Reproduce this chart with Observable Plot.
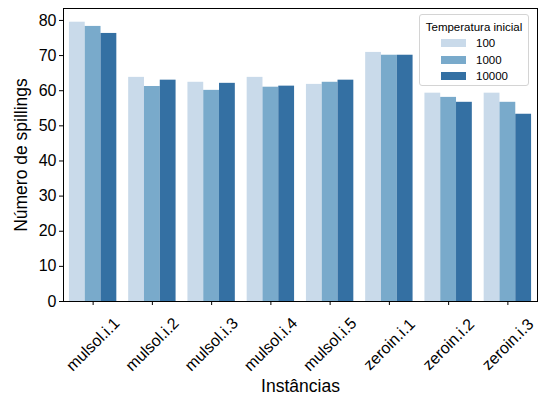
<!DOCTYPE html>
<html>
<head>
<meta charset="utf-8">
<script src="https://cdn.jsdelivr.net/npm/d3@7"></script>
<script src="https://cdn.jsdelivr.net/npm/@observablehq/plot@0.6"></script>
<style>
  html, body { margin: 0; padding: 0; background: #fff; }
  #wrap { position: relative; width: 541px; height: 396px; font-family: "Liberation Sans", Arial, sans-serif; }
  #legend { position: absolute; left: 419px; top: 14px; width: 110px; height: 72px; border: 1px solid #d4d4d4; border-radius: 3px; background: rgba(255,255,255,0.85); box-sizing: border-box; font-size: 11.5px; color: #000; }
  #legend .title { position: absolute; left: 0; width: 100%; top: 5px; text-align: center; line-height: 14px; }
  #legend .item { position: absolute; left: 21px; height: 14px; line-height: 14px; }
  #legend .sw { position: absolute; left: 0; top: 3px; width: 25px; height: 8px; }
  #legend .lb { position: absolute; left: 35px; top: 0; white-space: nowrap; }
</style>
</head>
<body>
<div id="wrap"></div>
<script>
const categories = ["mulsol.i.1","mulsol.i.2","mulsol.i.3","mulsol.i.4","mulsol.i.5","zeroin.i.1","zeroin.i.2","zeroin.i.3"];
const temps = ["100","1000","10000"];
const v100   = [79.5, 63.8, 62.4, 63.8, 61.8, 70.9, 59.3, 59.3];
const v1000  = [78.3, 61.2, 60.1, 61.0, 62.4, 70.1, 58.1, 56.7];
const v10000 = [76.3, 63.0, 62.1, 61.3, 63.0, 70.1, 56.7, 53.3];
const colors = ["#c9daea", "#79aacb", "#3470a3"];
const yTicks = [0, 10, 20, 30, 40, 50, 60, 70, 80];
const legendTitle = "Temperatura inicial";
const xLabel = "Instâncias";
const yLabel = "Número de spillings";

const series = [v100, v1000, v10000];
const groupWidth = 0.8;
const rows = [];
categories.forEach((c, i) => {
  temps.forEach((t, j) => {
    rows.push({i, cat: c, temp: t, j, value: series[j][i]});
  });
});
const bw = groupWidth / temps.length;

const chart = Plot.plot({
  width: 541,
  height: 396,
  marginLeft: 63,
  marginRight: 4,
  marginTop: 8,
  marginBottom: 95,
  style: {fontFamily: "'Liberation Sans', Arial, sans-serif", fontSize: "16px", color: "#000", background: "#fff"},
  x: {domain: [-0.5, categories.length - 0.5], axis: null},
  y: {domain: [0, 83.4], axis: null},
  color: {domain: temps, range: colors},
  marks: [
    Plot.rectY(rows, {
      x1: d => d.i - groupWidth / 2 + d.j * bw,
      x2: d => d.i - groupWidth / 2 + (d.j + 1) * bw,
      y1: 0,
      y2: "value",
      fill: "temp"
    }),
    Plot.axisY({ticks: yTicks, tickSize: 4, tickPadding: 3, label: null, fontSize: 16}),
    Plot.axisX({ticks: categories.map((_, i) => i), tickSize: 4, tickFormat: () => "", label: null}),
    Plot.text(categories, {x: (d, i) => i, text: d => d, frameAnchor: "bottom", rotate: -45, textAnchor: "middle", lineAnchor: "middle", dy: 43, fontSize: 16}),
    Plot.frame({stroke: "#000", strokeWidth: 1}),
    Plot.text([yLabel], {frameAnchor: "left", rotate: -90, textAnchor: "middle", lineAnchor: "middle", dx: -42, fontSize: 17.5, text: d => d}),
    Plot.text([xLabel], {frameAnchor: "bottom", textAnchor: "middle", lineAnchor: "middle", dy: 85, fontSize: 17.5, text: d => d})
  ]
});

const wrap = document.getElementById("wrap");
wrap.appendChild(chart);

const legend = document.createElement("div");
legend.id = "legend";
const title = document.createElement("div");
title.className = "title";
title.textContent = legendTitle;
legend.appendChild(title);
temps.forEach((t, j) => {
  const item = document.createElement("div");
  item.className = "item";
  item.style.top = (21 + j * 16.5) + "px";
  const sw = document.createElement("div");
  sw.className = "sw";
  sw.style.background = colors[j];
  const lb = document.createElement("div");
  lb.className = "lb";
  lb.textContent = t;
  item.appendChild(sw);
  item.appendChild(lb);
  legend.appendChild(item);
});
wrap.appendChild(legend);
</script>
</body>
</html>
